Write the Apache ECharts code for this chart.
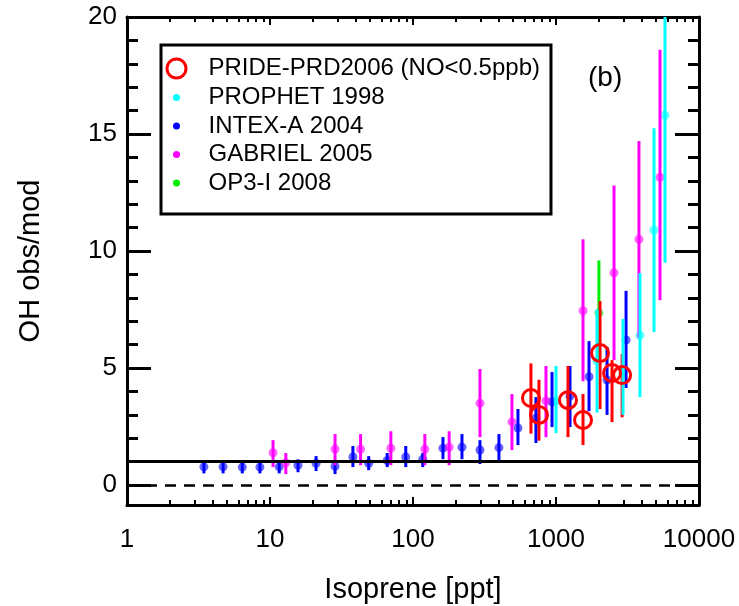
<!DOCTYPE html>
<html>
<head>
<meta charset="utf-8">
<script src="https://cdn.jsdelivr.net/npm/echarts@6/dist/echarts.min.js"></script>
<style>
html, body { margin: 0; padding: 0; background: #fff; }
#chart { width: 739px; height: 606px; }
</style>
</head>
<body>
<div id="chart"></div>
<script>
// tick values
var xMajor = [1, 10, 100, 1000, 10000];
var xMinor = [2, 3, 4, 5, 6, 7, 8, 9, 20, 30, 40, 50, 60, 70, 80, 90,
    200, 300, 400, 500, 600, 700, 800, 900, 2000, 3000, 4000, 5000, 6000, 7000, 8000, 9000];
var yMajor = [0, 5, 10, 15, 20];
var yMinor = [1, 2, 3, 4, 6, 7, 8, 9, 11, 12, 13, 14, 16, 17, 18, 19];

// PRIDE-PRD2006 (NO<0.5ppb)
var prideX = [668, 760, 1213, 1545, 2032, 2465, 2900];
var prideY = [3.72, 3.0, 3.63, 2.78, 5.64, 4.79, 4.7];
var prideLo = [2.2, 1.9, 2.05, 1.71, 3.25, 2.69, 2.9];
var prideHi = [5.2, 4.5, 5.09, 3.89, 7.86, 5.34, 5.6];

// PROPHET 1998
var prophetX = [1000, 1936, 2942, 3864, 4845, 5785];
var prophetY = [3.6, 5.3, 4.8, 6.4, 10.9, 15.8];
var prophetLo = [2.22, 3.1, 3.0, 3.76, 6.54, 9.5];
var prophetHi = [5.09, 7.5, 7.1, 9.06, 15.25, 21];

// INTEX-A 2004
var intexX = [3.45, 4.7, 6.4, 8.5, 11.6, 15.7, 21, 28.5, 38, 49, 66, 89, 117, 162, 220, 294,
    399, 542, 724, 938, 1253, 1702, 2275, 3089];
var intexY = [0.78, 0.78, 0.77, 0.77, 0.78, 0.85, 0.93, 0.8, 1.2, 0.93, 1.05, 1.2, 1.1, 1.58, 1.62, 1.5,
    1.6, 2.44, 2.86, 3.56, 3.8, 4.63, 4.49, 6.2];
var intexLo = [0.5, 0.5, 0.5, 0.5, 0.5, 0.55, 0.6, 0.47, 0.77, 0.64, 0.77, 0.77, 0.77, 1.11, 1.11, 0.9,
    1.07, 1.71, 1.8, 2.48, 2.48, 3.16, 3.0, 4.15];
var intexHi = [1.05, 1.05, 1.05, 1.05, 1.05, 1.1, 1.24, 1.07, 1.67, 1.24, 1.37, 1.67, 1.37, 2.05, 2.18, 1.92,
    2.18, 3.25, 3.76, 4.83, 5.09, 6.15, 5.9, 8.3];

// GABRIEL 2005
var gabrielX = [10.5, 12.9, 28.5, 43, 70, 121, 179, 294, 492, 851, 1545, 2545, 3803, 5336];
var gabrielY = [1.38, 0.95, 1.54, 1.54, 1.58, 1.54, 1.62, 3.5, 2.7, 3.6, 7.45, 9.07, 10.5, 13.15];
var gabrielLo = [0.77, 0.47, 0.85, 0.85, 0.85, 0.85, 0.85, 2.05, 1.5, 2.05, 4.44, 5.34, 6.3, 7.9];
var gabrielHi = [1.92, 1.37, 2.18, 2.18, 2.3, 2.18, 2.3, 4.96, 3.89, 5.09, 10.5, 12.8, 14.7, 18.6];

// OP3-I 2008
var op3X = [1996];
var op3Y = [7.36];
var op3Lo = [5.3];
var op3Hi = [9.6];

var FONT = 'Liberation Sans';

function pairs(a, b) {
    return a.map(function (v, i) { return [v, b[i]]; });
}
function triples(a, b, c) {
    return a.map(function (v, i) { return [v, b[i], c[i]]; });
}

function errorBars(name, xs, lo, hi, color) {
    return {
        name: name + ' err',
        type: 'custom',
        clip: true,
        z: 3,
        silent: true,
        data: triples(xs, lo, hi),
        encode: { x: 0, y: [1, 2] },
        renderItem: function (params, api) {
            var a = api.coord([api.value(0), api.value(1)]);
            var b = api.coord([api.value(0), api.value(2)]);
            return {
                type: 'line',
                shape: { x1: a[0], y1: a[1], x2: b[0], y2: b[1] },
                style: { stroke: color, lineWidth: 3 }
            };
        }
    };
}

function dots(name, xs, ys, color) {
    return {
        name: name,
        type: 'scatter',
        z: 2,
        symbol: 'circle',
        symbolSize: 9,
        itemStyle: { color: color, opacity: 0.6 },
        data: pairs(xs, ys)
    };
}

var dotIcon = 'path://M0,0M38,22M7.5,11A3.5,3.5,0,1,1,14.5,11A3.5,3.5,0,1,1,7.5,11Z';
var ringIcon = 'path://M0,0M38,22M1.5,11A9.5,9.5,0,1,1,20.5,11A9.5,9.5,0,1,1,1.5,11Z';

var names = ['PRIDE-PRD2006 (NO<0.5ppb)', 'PROPHET 1998', 'INTEX-A 2004', 'GABRIEL 2005', 'OP3-I 2008'];

var intexDots = dots(names[2], intexX, intexY, '#0000ff');
intexDots.markLine = {
    silent: true,
    symbol: 'none',
    label: { show: false },
    z: 5,
    data: [
        { yAxis: 1, lineStyle: { color: '#000', width: 3, type: 'solid' } },
        { yAxis: 0, lineStyle: { color: '#000', width: 2.5, type: [11, 8] } }
    ]
};

function xAxisDef(pos, ticks, len, showLabel, showLine) {
    return {
        type: 'log',
        logBase: 10,
        min: 1,
        max: 10000,
        position: pos,
        gridIndex: 0,
        axisLine: { show: showLine, onZero: false, lineStyle: { color: '#000', width: 3 } },
        axisTick: { show: true, inside: true, length: len, customValues: ticks, lineStyle: { color: '#000', width: 2 } },
        axisLabel: {
            show: showLabel, customValues: ticks, margin: 22,
            color: '#000', fontFamily: FONT, fontSize: 26,
            formatter: function (v) { return String(Math.round(v)); }
        },
        splitLine: { show: false },
        minorTick: { show: false },
        name: showLabel ? 'Isoprene [ppt]' : '',
        nameLocation: 'middle',
        nameGap: 70,
        nameTextStyle: { color: '#000', fontFamily: FONT, fontSize: 29 }
    };
}

function yAxisDef(pos, ticks, len, showLabel, showLine) {
    return {
        type: 'value',
        min: -0.85,
        max: 20,
        position: pos,
        gridIndex: 0,
        axisLine: { show: showLine, onZero: false, lineStyle: { color: '#000', width: 3 } },
        axisTick: { show: true, inside: true, length: len, customValues: ticks, lineStyle: { color: '#000', width: 3 } },
        axisLabel: {
            show: showLabel, customValues: ticks, margin: 10,
            color: '#000', fontFamily: FONT, fontSize: 26
        },
        splitLine: { show: false },
        name: showLabel ? 'OH obs/mod' : '',
        nameLocation: 'middle',
        nameGap: 82,
        nameTextStyle: { color: '#000', fontFamily: FONT, fontSize: 29 }
    };
}

var chart = echarts.init(document.getElementById('chart'), null, { renderer: 'canvas' });

var option = {
    backgroundColor: '#fff',
    animation: false,
    grid: { left: 127, right: 40, top: 17, bottom: 101, containLabel: false, outerBoundsMode: 'none' },
    xAxis: [
        xAxisDef('bottom', xMajor, 8, true, true),
        xAxisDef('bottom', xMinor, 5, false, false),
        xAxisDef('top', xMajor, 8, false, true),
        xAxisDef('top', xMinor, 5, false, false)
    ],
    yAxis: [
        yAxisDef('left', yMajor, 24, true, true),
        yAxisDef('left', yMinor, 11, false, false),
        yAxisDef('right', yMajor, 24, false, true),
        yAxisDef('right', yMinor, 11, false, false)
    ],
    legend: {
        orient: 'vertical',
        left: 161,
        top: 45,
        padding: [11, 11, 19, 3],
        itemGap: 4.5,
        itemWidth: 38,
        itemHeight: 22,
        borderColor: '#000',
        borderWidth: 3,
        borderRadius: 0,
        backgroundColor: '#fff',
        selectedMode: false,
        textStyle: { color: '#000', fontFamily: FONT, fontSize: 24, lineHeight: 22 },
        data: [
            { name: names[0], icon: ringIcon, itemStyle: { color: 'transparent', borderColor: '#ff0000', borderWidth: 3 } },
            { name: names[1], icon: dotIcon, itemStyle: { color: '#00ffff', opacity: 1 } },
            { name: names[2], icon: dotIcon, itemStyle: { color: '#0000ff', opacity: 1 } },
            { name: names[3], icon: dotIcon, itemStyle: { color: '#ff00ff', opacity: 1 } },
            { name: names[4], icon: dotIcon, itemStyle: { color: '#00ee00', opacity: 1 } }
        ]
    },
    graphic: [{
        type: 'text',
        left: 588,
        top: 64,
        style: { text: '(b)', fontFamily: FONT, fontSize: 28, fill: '#000' }
    }],
    series: [
        intexDots,
        dots(names[3], gabrielX, gabrielY, '#ff00ff'),
        dots(names[1], prophetX, prophetY, '#00ffff'),
        dots(names[4], op3X, op3Y, '#00ee00'),
        errorBars(names[2], intexX, intexLo, intexHi, '#0000ff'),
        errorBars(names[3], gabrielX, gabrielLo, gabrielHi, '#ff00ff'),
        errorBars(names[4], op3X, op3Lo, op3Hi, '#00ee00'),
        errorBars(names[0], prideX, prideLo, prideHi, '#ff0000'),
        errorBars(names[1], prophetX, prophetLo, prophetHi, '#00ffff'),
        {
            name: names[0],
            type: 'scatter',
            z: 4,
            symbol: 'circle',
            symbolSize: 17,
            itemStyle: { color: 'transparent', borderColor: '#ff0000', borderWidth: 3, opacity: 1 },
            data: pairs(prideX, prideY)
        }
    ]
};

chart.setOption(option);
</script>
</body>
</html>
